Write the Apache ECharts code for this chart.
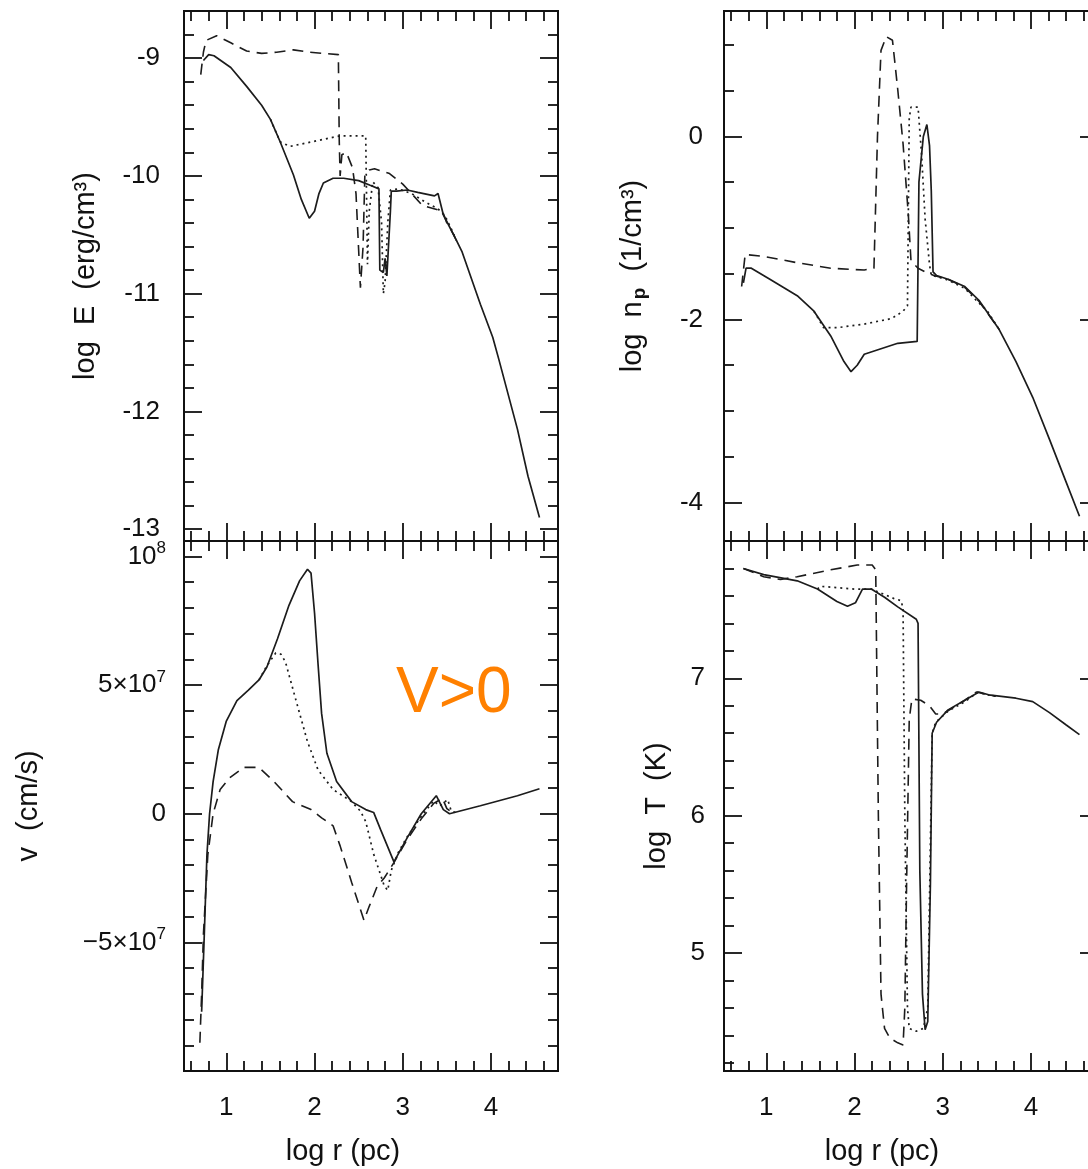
<!DOCTYPE html>
<html>
<head>
<meta charset="utf-8">
<script src="https://cdn.jsdelivr.net/npm/echarts@6.0.0/dist/echarts.min.js"></script>
<style>
html,body{margin:0;padding:0;overflow:hidden;background:#fff;}
#c{width:1100px;height:1169px;}
</style>
</head>
<body>
<div id="c"></div>
<script>
// ---------- axes / ticks ----------
const X_MIN = 0.52, X_MAX = 4.76;
const X_MAJOR = [1, 2, 3, 4];
const X_LABELS = ['1', '2', '3', '4'];
const X_MINOR = [0.6, 0.8, 1.2, 1.4, 1.6, 1.8, 2.2, 2.4, 2.6, 2.8, 3.2, 3.4, 3.6, 3.8, 4.2, 4.4, 4.6];

const E_MIN = -13.1, E_MAX = -8.6;
const E_MAJOR = [-13, -12, -11, -10, -9];
const E_LABELS = ['-13', '-12', '-11', '-10', '-9'];
const E_MINOR = [-12.8, -12.6, -12.4, -12.2, -11.8, -11.6, -11.4, -11.2, -10.8, -10.6, -10.4, -10.2, -9.8, -9.6, -9.4, -9.2, -8.8];

const V_MIN = -1e8, V_MAX = 1.06e8;
const V_MAJOR = [-1e8, -5e7, 0, 5e7, 1e8];
const V_LABELS = ['', '\u22125\u00d710{s|7}', '0', '5\u00d710{s|7}', '10{s|8}'];
const V_MINOR = [-9e7, -8e7, -7e7, -6e7, -4e7, -3e7, -2e7, -1e7, 1e7, 2e7, 3e7, 4e7, 6e7, 7e7, 8e7, 9e7];

const N_MIN = -4.42, N_MAX = 1.37;
const N_MAJOR = [-4, -2, 0];
const N_LABELS = ['-4', '-2', '0'];
const N_MINOR = [-3.5, -3, -2.5, -1.5, -1, -0.5, 0.5, 1];

const T_MIN = 4.14, T_MAX = 8.0;
const T_MAJOR = [5, 6, 7];
const T_LABELS = ['5', '6', '7'];
const T_MINOR = [4.2, 4.4, 4.6, 4.8, 5.2, 5.4, 5.6, 5.8, 6.2, 6.4, 6.6, 6.8, 7.2, 7.4, 7.6, 7.8];

// ---------- data: [log r, value] ----------
const E_solid = [[0.74,-9.02],[0.80,-8.97],[0.86,-8.98],[1.05,-9.08],[1.23,-9.24],[1.40,-9.40],[1.50,-9.52],[1.61,-9.71],[1.76,-9.99],[1.85,-10.2],[1.94,-10.36],[2.0,-10.30],[2.05,-10.15],[2.10,-10.06],[2.21,-10.02],[2.33,-10.02],[2.50,-10.04],[2.63,-10.08],[2.73,-10.11],[2.74,-10.8],[2.78,-10.82],[2.80,-10.7],[2.82,-10.85],[2.86,-10.3],[2.87,-10.13],[2.93,-10.13],[3.05,-10.12],[3.17,-10.14],[3.36,-10.17],[3.40,-10.15],[3.46,-10.33],[3.61,-10.55],[3.67,-10.64],[3.88,-11.09],[4.02,-11.37],[4.09,-11.56],[4.30,-12.15],[4.42,-12.55],[4.55,-12.9]];
const E_dotted = [[1.50,-9.52],[1.61,-9.71],[1.72,-9.75],[1.91,-9.72],[2.10,-9.69],[2.29,-9.66],[2.44,-9.66],[2.58,-9.66],[2.59,-10.2],[2.60,-10.75],[2.62,-10.3],[2.66,-10.05],[2.72,-10.1],[2.76,-10.4],[2.78,-11.0],[2.80,-10.9],[2.83,-10.4],[2.86,-10.12],[2.95,-10.11],[3.1,-10.15],[3.25,-10.22],[3.4,-10.28],[3.48,-10.34],[3.55,-10.45],[3.61,-10.55]];
const E_dashed = [[0.71,-9.14],[0.74,-8.95],[0.77,-8.85],[0.89,-8.81],[1.05,-8.87],[1.23,-8.94],[1.40,-8.96],[1.57,-8.95],[1.76,-8.93],[1.95,-8.95],[2.10,-8.96],[2.27,-8.97],[2.28,-9.7],[2.29,-10.0],[2.31,-9.82],[2.36,-9.80],[2.43,-9.93],[2.47,-10.15],[2.52,-10.95],[2.55,-10.6],[2.57,-10.0],[2.62,-9.95],[2.68,-9.94],[2.85,-9.98],[3.0,-10.07],[3.1,-10.15],[3.22,-10.25],[3.45,-10.3],[3.5,-10.4],[3.55,-10.46],[3.61,-10.55]];

const V_solid = [[0.72,-7.7e7],[0.75,-4.7e7],[0.78,-1.6e7],[0.81,0],[0.85,1.25e7],[0.91,2.5e7],[1.0,3.6e7],[1.12,4.4e7],[1.25,4.8e7],[1.37,5.2e7],[1.46,5.7e7],[1.58,6.8e7],[1.71,8.1e7],[1.83,9.05e7],[1.92,9.5e7],[1.96,9.35e7],[2.0,7.8e7],[2.04,5.8e7],[2.08,3.9e7],[2.14,2.35e7],[2.25,1.25e7],[2.42,0.47e7],[2.58,0.16e7],[2.67,0.05e7],[2.75,-0.63e7],[2.90,-1.87e7],[3.05,-0.94e7],[3.21,0],[3.38,0.7e7],[3.46,0.16e7],[3.53,0],[3.88,0.31e7],[4.30,0.7e7],[4.55,0.97e7]];
const V_dotted = [[1.37,5.2e7],[1.46,5.75e7],[1.56,6.25e7],[1.62,6.2e7],[1.67,5.9e7],[1.79,4.4e7],[1.92,2.8e7],[2.04,1.7e7],[2.21,0.94e7],[2.42,0.47e7],[2.52,0.1e7],[2.58,-0.3e7],[2.67,-1.57e7],[2.79,-2.8e7],[2.83,-2.98e7],[2.87,-2.2e7],[2.95,-1.5e7],[3.05,-0.9e7],[3.21,-0.1e7],[3.35,0.5e7],[3.42,0.3e7],[3.51,0.55e7],[3.55,0.1e7],[3.6,0.05e7]];
const V_dashed = [[0.70,-8.9e7],[0.72,-7e7],[0.74,-4.7e7],[0.79,-1.6e7],[0.85,0],[0.93,0.94e7],[1.04,1.4e7],[1.20,1.8e7],[1.37,1.8e7],[1.54,1.25e7],[1.75,0.47e7],[1.96,0.16e7],[2.08,-0.16e7],[2.21,-0.47e7],[2.29,-1.25e7],[2.42,-2.66e7],[2.56,-4.14e7],[2.62,-3.6e7],[2.71,-2.82e7],[2.79,-2.5e7],[2.90,-1.9e7],[3.05,-1.0e7],[3.21,-0.2e7],[3.35,0.4e7],[3.45,0.6e7],[3.5,0.2e7],[3.56,0.05e7]];

const N_solid = [[0.74,-1.60],[0.77,-1.44],[0.83,-1.44],[1.04,-1.56],[1.35,-1.74],[1.54,-1.91],[1.73,-2.18],[1.88,-2.46],[1.96,-2.57],[2.03,-2.50],[2.11,-2.38],[2.30,-2.32],[2.49,-2.26],[2.71,-2.24],[2.73,-0.5],[2.78,0.0],[2.82,0.13],[2.85,-0.1],[2.87,-0.6],[2.89,-1.48],[2.93,-1.52],[3.06,-1.56],[3.25,-1.64],[3.41,-1.79],[3.64,-2.11],[3.83,-2.46],[4.02,-2.85],[4.21,-3.31],[4.40,-3.78],[4.55,-4.15]];
const N_dotted = [[1.54,-1.91],[1.65,-2.09],[1.80,-2.09],[2.11,-2.05],[2.42,-1.99],[2.55,-1.91],[2.60,-1.85],[2.62,0.2],[2.64,0.32],[2.72,0.32],[2.76,-0.2],[2.80,-0.9],[2.85,-1.4],[2.87,-1.52],[2.93,-1.53],[3.06,-1.57],[3.25,-1.66],[3.41,-1.82],[3.50,-1.9],[3.64,-2.11]];
const N_dashed = [[0.72,-1.64],[0.76,-1.29],[0.97,-1.31],[1.35,-1.38],[1.73,-1.44],[2.11,-1.46],[2.22,-1.44],[2.26,0.0],[2.30,0.94],[2.36,1.09],[2.43,1.05],[2.49,0.51],[2.55,-0.08],[2.61,-0.86],[2.64,-1.36],[2.72,-1.44],[2.80,-1.48],[2.90,-1.52],[3.06,-1.56],[3.25,-1.65],[3.41,-1.8],[3.5,-1.92],[3.64,-2.11]];

const T_solid = [[0.74,7.80],[0.97,7.755],[1.35,7.71],[1.58,7.65],[1.80,7.56],[1.92,7.525],[2.01,7.55],[2.09,7.65],[2.19,7.65],[2.34,7.59],[2.49,7.52],[2.70,7.43],[2.72,7.40],[2.74,5.6],[2.77,4.7],[2.80,4.44],[2.83,4.5],[2.86,5.5],[2.88,6.6],[2.93,6.68],[3.06,6.77],[3.25,6.84],[3.41,6.90],[3.52,6.88],[3.83,6.855],[4.02,6.83],[4.21,6.75],[4.40,6.66],[4.55,6.59]];
const T_dotted = [[1.58,7.65],[1.61,7.67],[2.0,7.65],[2.19,7.65],[2.34,7.61],[2.45,7.58],[2.53,7.565],[2.55,7.5],[2.57,6.0],[2.60,4.6],[2.62,4.45],[2.70,4.43],[2.78,4.45],[2.83,4.6],[2.86,5.8],[2.88,6.6],[2.92,6.68],[3.06,6.76],[3.25,6.83],[3.40,6.9],[3.5,6.88],[3.6,6.87]];
const T_dashed = [[0.74,7.80],[0.97,7.74],[1.16,7.72],[1.35,7.74],[1.73,7.79],[2.03,7.825],[2.20,7.825],[2.24,7.79],[2.27,6.0],[2.30,4.7],[2.34,4.45],[2.40,4.38],[2.49,4.345],[2.55,4.33],[2.57,4.6],[2.59,5.5],[2.62,6.7],[2.65,6.85],[2.75,6.84],[2.85,6.80],[2.92,6.74],[3.0,6.74],[3.1,6.78],[3.25,6.84],[3.38,6.9],[3.45,6.89],[3.6,6.87]];

// ---------- styling ----------
const INK = '#111';
const CURVE = '#1c1c1c';
const FONT = 'Liberation Sans';
const MAJOR_LEN = 18, MINOR_LEN = 10;

const panels = [
  {grid:{left:184, top:11, width:374, height:530}, yMin:E_MIN, yMax:E_MAX, yMajor:E_MAJOR, yLabels:E_LABELS, yMinor:E_MINOR,
   name:'log  E  (erg/cm\u00b3)', nameGap:84, margin:24, xTitle:false, series:[E_solid, E_dotted, E_dashed]},
  {grid:{left:184, top:541, width:374, height:530}, yMin:V_MIN, yMax:V_MAX, yMajor:V_MAJOR, yLabels:V_LABELS, yMinor:V_MINOR,
   name:'v  (cm/s)', nameGap:141, margin:18, xTitle:true, titlePad:56, series:[V_solid, V_dotted, V_dashed]},
  {grid:{left:724, top:11, width:374, height:530}, yMin:N_MIN, yMax:N_MAX, yMajor:N_MAJOR, yLabels:N_LABELS, yMinor:N_MINOR,
   name:'{a|log  n}{b|p}{a|  (1/cm\u00b3)}', nameGap:75, margin:21, xTitle:false, series:[N_solid, N_dotted, N_dashed]},
  {grid:{left:724, top:541, width:374, height:530}, yMin:T_MIN, yMax:T_MAX, yMajor:T_MAJOR, yLabels:T_LABELS, yMinor:T_MINOR,
   name:'log  T  (K)', nameGap:53, margin:19, xTitle:true, titlePad:58, series:[T_solid, T_dotted, T_dashed]}
];

function lab(ticks, labels, v) {
  const i = ticks.findIndex(t => Math.abs(t - v) <= 1e-6 * Math.max(1, Math.abs(t)));
  return i < 0 ? '' : labels[i];
}

const lineStyles = [
  {type:'solid', width:1.7},
  {type:[2, 4], width:1.7},
  {type:[11, 7], width:1.6}
];

const grids = [], xAxes = [], yAxes = [], series = [];
panels.forEach((p, gi) => {
  grids.push(Object.assign({containLabel:false, outerBoundsMode:'none', show:false}, p.grid));
  const baseLine = {show:true, onZero:false, lineStyle:{color:INK, width:2}};
  const tick = (vals, len) => ({show:true, inside:true, length:len, customValues:vals, lineStyle:{color:INK, width:1.8}});
  const xCommon = {type:'value', gridIndex:gi, min:X_MIN, max:X_MAX, splitLine:{show:false}, axisLine:baseLine, axisLabel:{show:false}, minorTick:{show:false}};
  const xLabel = p.xTitle ? {show:true, customValues:X_MAJOR, formatter:v => lab(X_MAJOR, X_LABELS, v), margin:24, fontSize:26, fontFamily:FONT, color:INK} : {show:false};
  const xMain = Object.assign({}, xCommon, {position:'bottom', axisTick:tick(X_MAJOR, MAJOR_LEN), axisLabel:xLabel});
  if (p.xTitle) {
    Object.assign(xMain, {name:'log r (pc)', nameLocation:'middle', nameGap:66, nameMoveOverlap:false,
      nameTextStyle:{fontSize:29, fontFamily:FONT, color:INK, padding:[0, p.titlePad, 0, 0]}});
  }
  xAxes.push(xMain);
  xAxes.push(Object.assign({}, xCommon, {position:'bottom', axisTick:tick(X_MINOR, MINOR_LEN)}));
  xAxes.push(Object.assign({}, xCommon, {position:'top', axisTick:tick(X_MAJOR, MAJOR_LEN)}));
  xAxes.push(Object.assign({}, xCommon, {position:'top', axisTick:tick(X_MINOR, MINOR_LEN)}));

  const yCommon = {type:'value', gridIndex:gi, min:p.yMin, max:p.yMax, scale:true, splitLine:{show:false}, axisLine:baseLine, axisLabel:{show:false}, minorTick:{show:false}};
  yAxes.push(Object.assign({}, yCommon, {position:'left', axisTick:tick(p.yMajor, MAJOR_LEN),
    axisLabel:{show:true, customValues:p.yMajor, formatter:v => lab(p.yMajor, p.yLabels, v), margin:p.margin, fontSize:26, fontFamily:FONT, color:INK,
      rich:{s:{fontSize:17, fontFamily:FONT, color:INK, padding:[0, 0, 16, 0]}}},
    name:p.name, nameLocation:'middle', nameGap:p.nameGap, nameRotate:90, nameMoveOverlap:false,
    nameTextStyle:{fontSize:29, fontFamily:FONT, color:INK,
      rich:{a:{fontSize:29, fontFamily:FONT, color:INK}, b:{fontSize:19, fontFamily:FONT, color:INK, fontWeight:'bold', padding:[14, 0, 0, 2]}}}}));
  yAxes.push(Object.assign({}, yCommon, {position:'left', axisTick:tick(p.yMinor, MINOR_LEN)}));
  yAxes.push(Object.assign({}, yCommon, {position:'right', axisTick:tick(p.yMajor, MAJOR_LEN)}));
  yAxes.push(Object.assign({}, yCommon, {position:'right', axisTick:tick(p.yMinor, MINOR_LEN)}));

  p.series.forEach((d, si) => {
    series.push({type:'line', xAxisIndex:gi * 4, yAxisIndex:gi * 4, data:d, showSymbol:false, symbol:'none',
      smooth:false, clip:true, silent:true, animation:false,
      lineStyle:{color:CURVE, width:lineStyles[si].width, type:lineStyles[si].type, cap:'butt'}});
  });
});

const chart = echarts.init(document.getElementById('c'), null, {width:1100, height:1169, renderer:'canvas'});
chart.setOption({
  backgroundColor:'#fff',
  animation:false,
  grid:grids,
  xAxis:xAxes,
  yAxis:yAxes,
  series:series,
  graphic:[{type:'text', silent:true, style:{x:396, y:694, text:'V>0', fill:'#ff8000', font:'64px "Liberation Sans"', verticalAlign:'middle', align:'left'}}]
});
</script>
</body>
</html>
